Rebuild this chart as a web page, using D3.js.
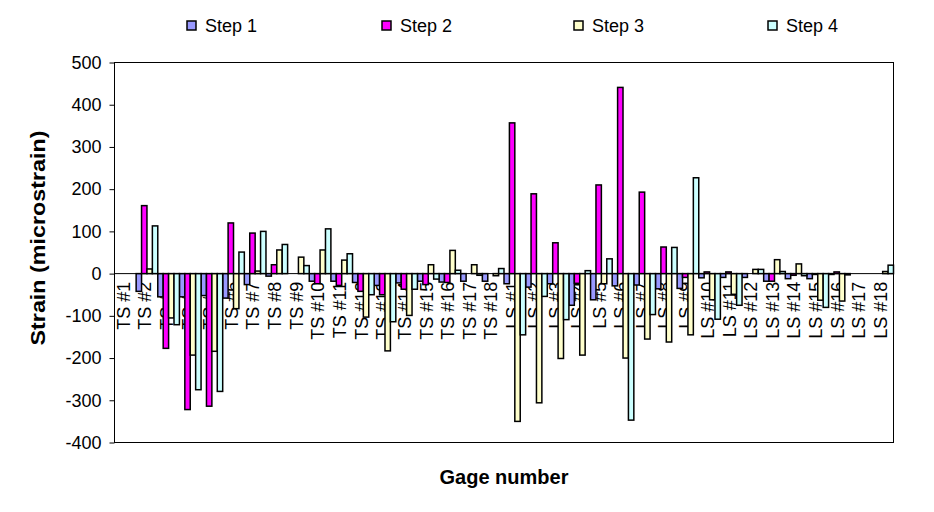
<!DOCTYPE html>
<html><head><meta charset="utf-8">
<script src="https://cdn.jsdelivr.net/npm/d3@7"></script>
<style>
html,body{margin:0;padding:0;background:#fff;}
svg{display:block;font-family:"Liberation Sans",Arial,sans-serif;}
</style></head>
<body>
<svg id="chart" width="934" height="512"></svg>
<script>
const categories = ["TS #1","TS #2","TS #3","TS #4","TS #5","TS #6","TS #7","TS #8","TS #9","TS #10","TS #11","TS #12","TS #13","TS #14","TS #15","TS #16","TS #17","TS #18",
  "LS #1","LS #2","LS #3","LS #4","LS #5","LS #6","LS #7","LS #8","LS #9","LS #10","LS #11","LS #12","LS #13","LS #14","LS #15","LS #16","LS #17","LS #18"];
const seriesNames = ["Step 1","Step 2","Step 3","Step 4"];
const seriesColors = ["#9999FF","#FF00FF","#FFFFCC","#CCFFFF"];
const step1 = [0,-42,-55,-55,-52,-58,-26,-6,0,-18,-18,-21,-28,-22,-18,-20,-18,-18,
  -24,-32,-24,-75,-62,-29,-27,-36,-35,-10,-9,-9,-18,-12,-12,-2,0,0];
const step2 = [0,161,-177,-322,-314,120,96,21,0,-24,-28,-42,-50,-37,-26,-21,0,0,
  357,189,73,-23,210,441,193,63,-9,4,4,0,-18,-4,-2,4,0,0];
const step3 = [0,11,-105,-193,-184,-83,6,56,39,56,32,-103,-183,-99,21,55,21,-5,
  -350,-306,-201,-193,-24,-200,-155,-162,-145,-62,-49,10,33,23,-63,-65,0,5];
const step4 = [0,113,-121,-275,-279,51,100,69,19,106,47,-50,-114,-37,-13,8,-4,12,
  -145,-54,-109,7,35,-347,-97,62,227,-108,-75,10,5,-5,-80,-3,0,20];
const yTicks = [500,400,300,200,100,0,-100,-200,-300,-400];
const yTitle = "Strain (microstrain)";
const xTitle = "Gage number";

const seriesData = [step1, step2, step3, step4];
const svg = d3.select("#chart");
const pL = 114.5, pR = 893.5, pT = 62.5, pB = 442.5;

const x = d3.scaleBand().domain(categories).range([pL, pR]).paddingInner(0).paddingOuter(0);
const xs = d3.scaleBand().domain(seriesNames).range([0, x.bandwidth()]).padding(0);
const y = d3.scaleLinear().domain([-400, 500]).range([pB, pT]);

// plot frame
svg.append("rect").attr("x", pL).attr("y", pT).attr("width", pR-pL).attr("height", pB-pT)
  .attr("fill", "#fff").attr("stroke", "#000").attr("stroke-width", 1);

// category labels (drawn beneath the bars)
svg.append("g").selectAll("text").data(categories).join("text")
  .attr("transform", d => `translate(${x(d) + x.bandwidth()/2 - 2},${y(0) + 8}) rotate(-90)`)
  .attr("text-anchor", "end").attr("dy", "0.35em")
  .attr("font-size", 18).attr("fill", "#000")
  .text(d => d);

// bars
seriesData.forEach((vals, si) => {
  svg.append("g").selectAll("rect").data(vals.map((v,i)=>({c:categories[i], v})).filter(d => d.v !== 0))
    .join("rect")
    .attr("x", d => x(d.c) + xs(seriesNames[si]))
    .attr("width", xs.bandwidth())
    .attr("y", d => y(Math.max(0, d.v)))
    .attr("height", d => Math.abs(y(d.v) - y(0)))
    .attr("fill", seriesColors[si])
    .attr("stroke", "#000").attr("stroke-width", 1.5);
});

// zero line
svg.append("line").attr("x1", pL).attr("x2", pR).attr("y1", y(0)).attr("y2", y(0))
  .attr("stroke", "#000").attr("stroke-width", 1);

// y axis
const yAxis = d3.axisLeft(y).tickValues(yTicks).tickSize(5).tickPadding(8).tickFormat(d => String(d));
const ya = svg.append("g").attr("transform", `translate(${pL},0)`).call(yAxis);
ya.select(".domain").remove();
ya.selectAll("text").attr("font-size", 18).attr("fill", "#000").attr("font-family", "Liberation Sans, Arial, sans-serif");
ya.selectAll("line").attr("stroke", "#000");

// axis titles
svg.append("text").attr("x", (pL+pR)/2).attr("y", 484).attr("text-anchor", "middle")
  .attr("font-size", 20).attr("font-weight", "bold").text(xTitle);
svg.append("text").attr("transform", `translate(45,238) rotate(-90)`).attr("text-anchor", "middle")
  .attr("font-size", 20).attr("font-weight", "bold")
  .attr("textLength", 215).attr("lengthAdjust", "spacingAndGlyphs").text(yTitle);

// legend
const legendX = [187, 382, 574, 768];
const lg = svg.append("g");
seriesNames.forEach((n, i) => {
  lg.append("rect").attr("x", legendX[i]).attr("y", 21).attr("width", 9).attr("height", 9)
    .attr("fill", seriesColors[i]).attr("stroke", "#000").attr("stroke-width", 1.5);
  lg.append("text").attr("x", legendX[i] + 18).attr("y", 32).attr("font-size", 18).text(n);
});
</script>
</body></html>
